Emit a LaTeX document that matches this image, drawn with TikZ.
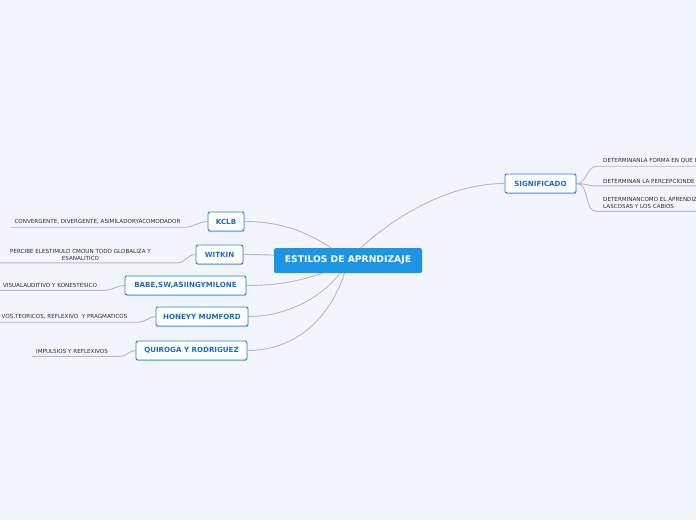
\documentclass[tikz,border=0pt]{standalone}
\usepackage{fontspec}
\setmainfont{DejaVu Sans}
\usetikzlibrary{positioning, shadows}
\definecolor{pagebg}{HTML}{F3F5FD}
\definecolor{rootblue}{HTML}{1C96E4}
\definecolor{topicblue}{HTML}{2A80D6}
\definecolor{topictext}{HTML}{1A6CC4}
\definecolor{linkgray}{HTML}{B5B9C4}
\definecolor{leafgray}{HTML}{2E2E2E}
\pgfdeclarelayer{back}
\pgfdeclarelayer{links}
\pgfsetlayers{back,links,main}
\tikzset{
  root/.style={fill=rootblue, text=white, rounded corners=1.5pt,
               font=\fontsize{9.2}{11}\selectfont\bfseries,
               minimum width=148pt, minimum height=25pt, inner sep=0pt},
  topic/.style={draw=topicblue, fill=white, text=topictext, rounded corners=2pt,
                line width=0.9pt, font=\fontsize{7.1}{8}\selectfont\bfseries,
                minimum height=19pt, inner sep=0pt,
                drop shadow={shadow xshift=0.4pt, shadow yshift=-1pt,
                             fill=topicblue, opacity=0.35}},
  leaf/.style={text=leafgray, font=\fontsize{5.6}{7}\selectfont, align=center,
               inner xsep=4pt, inner ysep=2.6pt},
  link/.style={linkgray, line width=0.9pt},
}
\begin{document}
\begin{tikzpicture}[x=1pt, y=-1pt]
  \useasboundingbox (0,0) rectangle (696,520);
  \begin{pgfonlayer}{back}
    \fill[pagebg] (0,0) rectangle (696,520);
  \end{pgfonlayer}

  \node[root] (root) at (348,260.5) {ESTILOS DE APRNDIZAJE};

  % left branch
  \node[topic, minimum width=36pt] (kclb) at (226,221.5) {KCLB};
  \node[topic, minimum width=47pt] (witkin) at (219.5,254.5) {WITKIN};
  \node[topic, minimum width=121pt] (babe) at (185.5,285.5) {BABE,SW,ASIINGYMILONE};
  \node[topic, minimum width=92pt] (honey) at (202,316.5) {HONEYY MUMFORD};
  \node[topic, minimum width=111pt] (quiroga) at (191.5,350.5) {QUIROGA Y RODRIGUEZ};

  \node[leaf] (kclbleaf) at (97.5,222) {CONVERGENTE, DIVERGENTE, ASIMILADORYACOMODADOR};
  \node[leaf] (witkinleaf) at (80.5,254.5) {PERCIBE ELESTIMULO CMOUN TODO GLOBALIZA Y\\ESANALITICO};
  \node[leaf] (babeleaf) at (50,285.5) {VISUALAUDITIVO Y KONESTESICO};
  \node[leaf] (honeyleaf) at (64.5,317) {VOS,TEORICOS, REFLEXIVO \ Y PRAGMATICOS};
  \node[leaf] (quirogaleaf) at (72,351.5) {IMPULSIOS Y REFLEXIVOS};

  % right branch
  \node[topic, minimum width=71pt] (signif) at (540.5,183.5) {SIGNIFICADO};
  \node[leaf, anchor=west, inner xsep=6pt] (sigleafa) at (597,161) {DETERMINANLA FORMA EN QUE E};
  \node[leaf, anchor=west, inner xsep=6pt] (sigleafb) at (597,181) {DETERMINAN LA PERCEPCIONDE};
  \node[leaf, anchor=west, inner xsep=6pt, align=left] (sigleafc) at (597,203) {DETERMINANCOMO EL APRENDIZ\\LASCOSAS Y LOS CABIOS};

  \begin{pgfonlayer}{links}
    \draw[link] (root.center) .. controls (320,238) and (290,221.5) .. (kclb.east);
    \draw[link] (root.center) .. controls (300,256) and (270,254.5) .. (witkin.east);
    \draw[link] (root.center) .. controls (325,274) and (295,285.5) .. (babe.east);
    \draw[link] (root.center) .. controls (332,292) and (292,316.5) .. (honey.east);
    \draw[link] (root.center) .. controls (336,312) and (300,350.5) .. (quiroga.east);
    \draw[link] (root.center) .. controls (378,228) and (440,183.5) .. (signif.west);

    \draw[link] (kclbleaf.south west) -- (kclbleaf.south east) to[out=0, in=180] (kclb.west);
    \draw[link] ([xshift=-8pt]witkinleaf.south west) -- ([xshift=22pt]witkinleaf.south east) to[out=0, in=180] (witkin.west);
    \draw[link] ([xshift=-4pt]babeleaf.south west) -- ([xshift=3pt]babeleaf.south east) to[out=0, in=180] (babe.west);
    \draw[link] ([xshift=-4pt]honeyleaf.south west) -- ([xshift=7pt]honeyleaf.south east) to[out=0, in=180] (honey.west);
    \draw[link] (quirogaleaf.south west) -- ([xshift=8pt]quirogaleaf.south east) to[out=0, in=180] (quiroga.west);

    \draw[link] (signif.east) to[out=0, in=180] (sigleafa.south west) -- (sigleafa.south east);
    \draw[link] (signif.east) to[out=0, in=180] (sigleafb.south west) -- (sigleafb.south east);
    \draw[link] (signif.east) to[out=0, in=180] (sigleafc.south west) -- (sigleafc.south east);
  \end{pgfonlayer}
\end{tikzpicture}
\end{document}
